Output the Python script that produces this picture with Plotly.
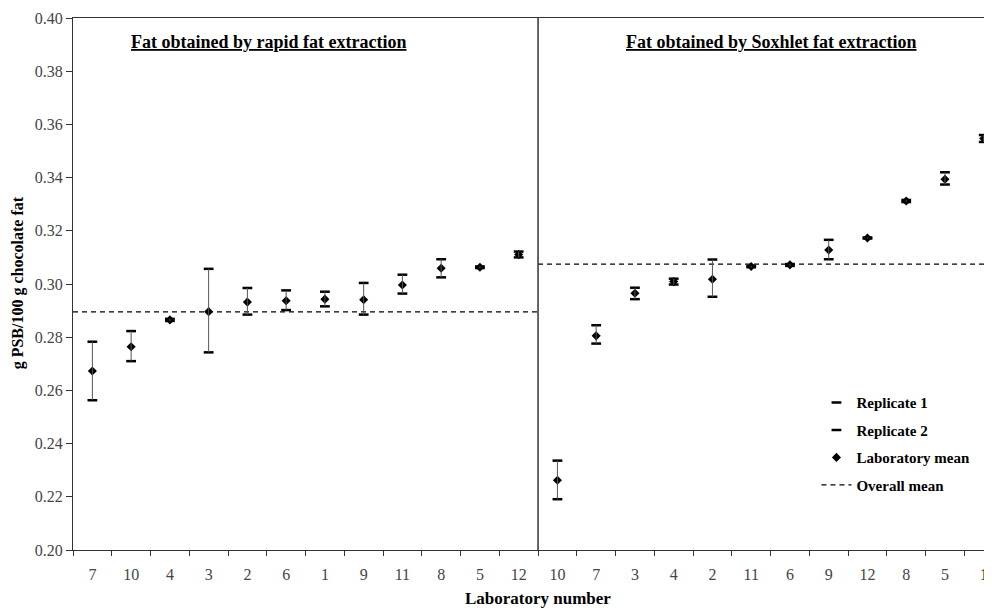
import plotly.graph_objects as go

# ---------------- data ----------------
left_labs = [7, 10, 4, 3, 2, 6, 1, 9, 11, 8, 5, 12]
left_rep1 = [0.2783, 0.2823, 0.2869, 0.3057, 0.2985, 0.2976, 0.2971, 0.3004, 0.3035, 0.3093, 0.3066, 0.3122]
left_rep2 = [0.2563, 0.2710, 0.2861, 0.2743, 0.2885, 0.2902, 0.2916, 0.2885, 0.2964, 0.3025, 0.3060, 0.3100]
left_mean = [0.2673, 0.2764, 0.2865, 0.2896, 0.2932, 0.2937, 0.2943, 0.2941, 0.2996, 0.3059, 0.3063, 0.3111]

right_labs = [10, 7, 3, 4, 2, 11, 6, 9, 12, 8, 5, 1]
right_rep1 = [0.2336, 0.2845, 0.2986, 0.3020, 0.3092, 0.3068, 0.3075, 0.3166, 0.3175, 0.3316, 0.3420, 0.3560]
right_rep2 = [0.2191, 0.2776, 0.2943, 0.2998, 0.2952, 0.3063, 0.3068, 0.3093, 0.3171, 0.3308, 0.3374, 0.3534]
right_mean = [0.2262, 0.2805, 0.2965, 0.3009, 0.3018, 0.3066, 0.3072, 0.3128, 0.3173, 0.3312, 0.3394, 0.3547]

overall_means = [0.2895, 0.3075]
panel_titles = ["Fat obtained by rapid fat extraction", "Fat obtained by Soxhlet fat extraction"]
y_ticks = [0.20, 0.22, 0.24, 0.26, 0.28, 0.30, 0.32, 0.34, 0.36, 0.38, 0.40]

# ---------------- derived ----------------
n_left = len(left_labs)
labels = left_labs + right_labs
n = len(labels)
xs = list(range(n))
rep1 = left_rep1 + right_rep1
rep2 = left_rep2 + right_rep2
means = left_mean + right_mean
hi = [max(a, b) for a, b in zip(rep1, rep2)]
lo = [min(a, b) for a, b in zip(rep1, rep2)]

SERIF = "Liberation Serif"
LINE = "#333333"

fig = go.Figure()

# vertical range lines (on the label axis so that it is drawn)
fig.add_trace(go.Scatter(
    x=xs, y=means, mode="markers", xaxis="x2", yaxis="y",
    marker=dict(size=1, opacity=0),
    error_y=dict(type="data", symmetric=False,
                 array=[h - m for h, m in zip(hi, means)],
                 arrayminus=[m - l for m, l in zip(means, lo)],
                 width=0, thickness=1, color="#555555"),
    showlegend=False, hoverinfo="skip"))

fig.add_trace(go.Scatter(
    x=xs, y=rep1, mode="markers", name="Replicate 1", legendgroup="r1",
    marker=dict(symbol="line-ew", size=7, color="black",
                line=dict(width=2.5, color="black"))))
fig.add_trace(go.Scatter(
    x=xs, y=rep2, mode="markers", name="Replicate 2", legendgroup="r2",
    marker=dict(symbol="line-ew", size=7, color="black",
                line=dict(width=2.5, color="black"))))
fig.add_trace(go.Scatter(
    x=xs, y=means, mode="markers", name="Laboratory mean", legendgroup="m",
    marker=dict(symbol="diamond", size=7, color="black")))

# overall mean lines per panel
fig.add_trace(go.Scatter(
    x=[-0.5, n_left - 0.5, None, n_left - 0.5, n - 0.5],
    y=[overall_means[0], overall_means[0], None, overall_means[1], overall_means[1]],
    mode="lines", name="Overall mean", legendgroup="o",
    line=dict(color="black", width=1.2, dash="5px,4px")))

xrange = [-0.5, 23.42]

fig.update_layout(
    width=992, height=611,
    margin=dict(l=65, r=0, t=10, b=69),
    paper_bgcolor="white", plot_bgcolor="white",
    font=dict(family=SERIF, color="black"),
    xaxis=dict(range=xrange, tickmode="array",
               tickvals=[i - 0.5 for i in range(n + 1)],
               ticktext=[""] * (n + 1),
               ticks="outside", ticklen=5, tickcolor=LINE, tickwidth=1,
               showline=True, linecolor=LINE, linewidth=1, mirror=True,
               showgrid=False, zeroline=False),
    xaxis2=dict(range=xrange, overlaying="x", anchor="y", side="bottom",
                tickmode="array", tickvals=xs, ticktext=[str(v) for v in labels],
                ticks="outside", ticklen=10, tickcolor="rgba(0,0,0,0)",
                tickfont=dict(family=SERIF, size=16, color="#444444"),
                showline=False, showgrid=False, zeroline=False),
    yaxis=dict(range=[0.20, 0.40], tickmode="array", tickvals=y_ticks,
               ticktext=[f"{v:.2f}" for v in y_ticks],
               ticks="outside", ticklen=6, tickcolor=LINE,
               tickfont=dict(family=SERIF, size=16, color="#444444"),
               showline=True, linecolor=LINE, linewidth=1,
               showgrid=False, zeroline=False),
    legend=dict(x=0.802, y=0.308, xanchor="left", yanchor="top",
                bgcolor="rgba(0,0,0,0)", tracegroupgap=5,
                font=dict(family=SERIF, size=15, color="black", weight="bold")),
    shapes=[dict(type="line", xref="x", yref="y",
                 x0=n_left - 0.5, x1=n_left - 0.5, y0=0.20, y1=0.40,
                 line=dict(color=LINE, width=1.5))],
    annotations=[
        dict(text=f"<b><u>{panel_titles[0]}</u></b>", xref="paper", yref="paper",
             x=0.2104, y=0.955, xanchor="center", yanchor="middle",
             showarrow=False, font=dict(family=SERIF, size=18, color="black")),
        dict(text=f"<b><u>{panel_titles[1]}</u></b>", xref="paper", yref="paper",
             x=0.7530, y=0.955, xanchor="center", yanchor="middle",
             showarrow=False, font=dict(family=SERIF, size=18, color="black")),
        dict(text="<b>Laboratory number</b>", xref="paper", yref="paper",
             x=0.5016, y=-0.092, xanchor="center", yanchor="middle",
             showarrow=False, font=dict(family=SERIF, size=17, color="black")),
        dict(text="<b>g PSB/100 g chocolate fat</b>", xref="paper", yref="paper",
             x=-0.0594, y=0.503, xanchor="center", yanchor="middle", textangle=-90,
             showarrow=False, font=dict(family=SERIF, size=16, color="black")),
    ],
)

fig.write_html("out.html")
